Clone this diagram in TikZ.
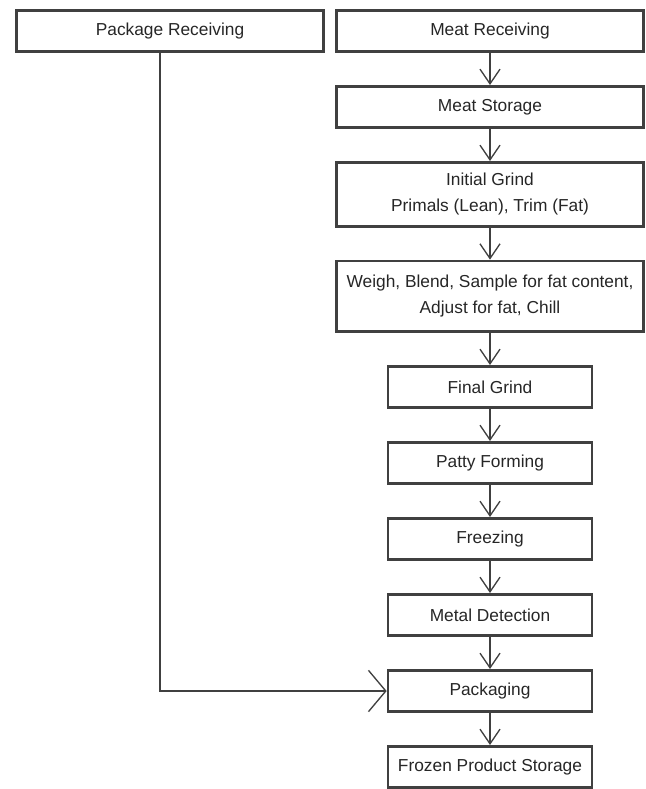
\documentclass[tikz,border=0pt]{standalone}
\usepackage{fontspec}
\setmainfont{Liberation Sans}
\usetikzlibrary{arrows.meta,positioning}

\tikzset{
  stage/.style={rectangle, draw=black!75, line width=2pt, text=black!85, align=center,
                inner sep=2pt, minimum height=31pt, font=\fontsize{13}{19.5}\selectfont},
  wide/.style={stage, minimum width=230pt},
  narrow/.style={stage, minimum width=153pt},
  flow/.style={->, draw=black!75, line width=1pt},
}

\begin{document}
\begin{tikzpicture}[>={Straight Barb[length=11pt,width=15pt]},node distance=24pt]
\useasboundingbox (0,0) rectangle (484.5pt,-591.75pt);

\node[wide] (MR) at (367.5pt,-23.25pt) {Meat Receiving};
\node[wide] (PR) [left=8pt of MR] {Package Receiving};
\node[wide] (MS) [below=of MR] {Meat Storage};
\node[wide, minimum height=48pt] (IG) [below=of MS] {Initial Grind\\Primals (Lean), Trim (Fat)};
\node[wide, minimum height=53pt] (WB) [below=of IG] {Weigh, Blend, Sample for fat content,\\Adjust for fat, Chill};
\node[narrow] (FG) [below=of WB] {Final Grind};
\node[narrow] (PF) [below=of FG] {Patty Forming};
\node[narrow] (FZ) [below=of PF] {Freezing};
\node[narrow] (MD) [below=of FZ] {Metal Detection};
\node[narrow] (PK) [below=of MD] {Packaging};
\node[narrow] (FS) [below=of PK] {Frozen Product Storage};

\path (MR) edge[flow] (MS)
      (MS) edge[flow] (IG)
      (IG) edge[flow] (WB)
      (WB) edge[flow] (FG)
      (FG) edge[flow] (PF)
      (PF) edge[flow] (FZ)
      (FZ) edge[flow] (MD)
      (MD) edge[flow] (PK)
      (PK) edge[flow] (FS);

\draw[flow, >={Straight Barb[length=13pt,width=31pt]}] ([xshift=-7.5pt]PR.south) |- (PK.west);

\end{tikzpicture}
\end{document}
